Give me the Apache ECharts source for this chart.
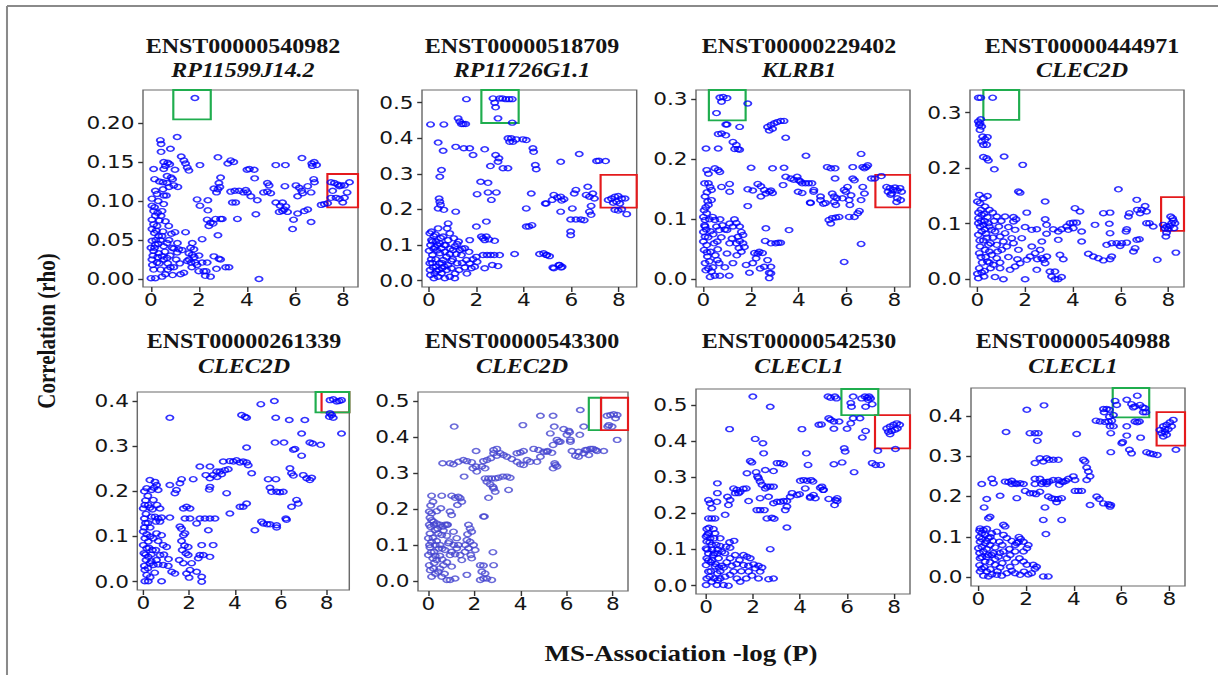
<!DOCTYPE html>
<html>
<head>
<meta charset="utf-8">
<script src="https://cdn.jsdelivr.net/npm/echarts@6/dist/echarts.min.js"></script>
<style>
html,body{margin:0;padding:0;background:#fff;overflow:hidden}
#wrap{width:1218px;height:675px;overflow:hidden;position:relative;background:#fff}
#chart{width:1015px;height:675px;transform:scaleX(1.2);transform-origin:0 0}
</style>
</head>
<body>
<div id="wrap"><div id="chart"></div></div>
<script>
// Transcript / gene labels for the eight panels
const transcripts = ['ENST00000540982','ENST00000518709','ENST00000229402','ENST00000444971',
                     'ENST00000261339','ENST00000543300','ENST00000542530','ENST00000540988'];
const genes = ['RP11599J14.2','RP11726G1.1','KLRB1','CLEC2D','CLEC2D','CLEC2D','CLECL1','CLECL1'];

// Tick values
const xTicks = [0,2,4,6,8];
const yTicks = [
  [0,0.05,0.10,0.15,0.20],
  [0,0.1,0.2,0.3,0.4,0.5],
  [0,0.1,0.2,0.3],
  [0,0.1,0.2,0.3],
  [0,0.1,0.2,0.3,0.4],
  [0,0.1,0.2,0.3,0.4,0.5],
  [0,0.1,0.2,0.3,0.4,0.5],
  [0,0.1,0.2,0.3,0.4]
];

// Points: [MS-association -log(P), correlation rho]
const p1 = [
[1.83,0.232],[1.09,0.182],[0.39,0.178],[0.42,0.173],[0.81,0.167],[0.42,0.163],
[1.26,0.157],[1.37,0.152],[1.44,0.148],[1.51,0.143],[1.58,0.139],
[0.53,0.150],[0.70,0.149],[0.78,0.147],[0.60,0.145],[0.11,0.141],[2.04,0.146],[2.79,0.156],
[3.20,0.148],[3.32,0.152],[3.45,0.150],[4.00,0.140],[4.10,0.141],[4.30,0.140],
[5.20,0.146],[5.60,0.146],[6.29,0.155],[6.70,0.148],[6.80,0.150],[6.90,0.146],[6.72,0.145],
[0.53,0.141],[0.67,0.132],[0.84,0.130],[0.50,0.124],[0.67,0.123],[0.95,0.120],[1.12,0.118],
[0.18,0.113],[0.25,0.109],[0.53,0.107],[0.64,0.107],[0.04,0.103],
[2.83,0.123],[2.87,0.118],[2.90,0.130],[2.73,0.111],[2.62,0.116],[2.79,0.115],
[1.92,0.102],[2.04,0.094],[2.37,0.101],
[3.32,0.112],[3.49,0.113],[3.67,0.113],[3.85,0.111],[3.95,0.114],[4.02,0.111],[3.39,0.098],[3.53,0.098],
[4.16,0.106],[4.43,0.101],[4.69,0.111],[4.85,0.112],[4.99,0.110],[4.85,0.123],[4.92,0.120],[4.32,0.129],
[5.20,0.098],[5.38,0.094],[5.48,0.098],[5.55,0.089],[5.62,0.093],[5.34,0.086],[5.48,0.087],[5.69,0.086],
[5.58,0.119],[6.04,0.120],[6.18,0.117],[6.28,0.113],[6.11,0.106],[6.32,0.110],[6.67,0.111],[6.53,0.119],
[6.78,0.128],[6.81,0.124],[6.11,0.084],[6.39,0.087],[6.53,0.089],[5.94,0.076],[6.67,0.073],[5.90,0.064],
[7.09,0.095],[7.22,0.096],[7.36,0.097],
[7.50,0.124],[7.64,0.123],[7.78,0.121],[7.85,0.119],[7.92,0.120],[8.06,0.120],[8.27,0.124],
[7.50,0.104],[7.71,0.104],[7.85,0.103],[8.06,0.104],[8.17,0.111],[7.99,0.098],[7.57,0.113],
[0.04,0.094],[0.11,0.087],[0.18,0.081],[0.04,0.076],[0.11,0.070],[0.25,0.068],[0.04,0.064],[0.14,0.059],
[0.32,0.055],[0.04,0.049],[0.18,0.044],[0.00,0.040],[0.11,0.036],[0.32,0.033],[0.46,0.029],[0.04,0.025],
[0.25,0.021],[0.53,0.025],[0.67,0.027],[0.11,0.012],[0.00,0.001],[0.18,0.001],[0.46,0.003],[0.60,0.006],
[0.81,0.015],[0.95,0.015],[1.23,0.006],[1.37,0.008],
[0.53,0.096],[0.46,0.087],[0.42,0.081],[0.60,0.074],[0.74,0.068],[0.50,0.061],[0.46,0.055],[0.67,0.046],
[0.53,0.042],[0.88,0.040],[0.95,0.039],[1.09,0.034],[1.44,0.060],[1.16,0.038],[1.30,0.037],
[1.72,0.046],[1.65,0.040],[1.79,0.038],[1.58,0.033],[1.72,0.031],[1.58,0.025],[1.51,0.023],[1.67,0.021],
[1.85,0.021],[1.92,0.018],[2.13,0.051],[1.99,0.010],[2.30,0.010],[2.26,0.004],[2.48,0.003],[2.13,0.021],
[2.34,0.021],[2.62,0.029],[2.83,0.026],[2.90,0.025],[2.73,0.013],[3.11,0.015],[3.25,0.015],[2.79,0.056],
[2.37,0.088],[2.34,0.076],[2.48,0.072],[2.59,0.071],[2.69,0.077],[2.90,0.077],[2.97,0.077],[3.60,0.077],
[2.41,0.068],[4.50,0.000],[4.37,0.083],
[0.20,0.050],[0.30,0.045],[0.08,0.030],[0.35,0.020],[0.75,0.050],[0.85,0.058],[1.00,0.060],[0.90,0.005],[0.70,0.012],[1.10,0.046],
[0.15,0.092],[0.28,0.085],[0.35,0.075],[0.22,0.062],[0.40,0.050],[0.15,0.040],[0.28,0.028],[0.58,0.035],
[0.70,0.020],[0.06,0.018],[0.40,0.012],[1.05,0.025],[1.20,0.020],[0.80,0.030],[0.30,0.100],[0.50,0.115],
[0.75,0.118],[0.90,0.128],[1.00,0.140],[0.35,0.125],[0.15,0.128],[1.80,0.028],[1.70,0.015],[2.00,0.030],[2.20,0.010]
];

const p2 = [
[0.07,0.439],[0.63,0.439],[1.58,0.510],[1.23,0.456],[1.30,0.447],[1.37,0.440],[1.45,0.440],[1.55,0.440],
[2.70,0.512],[2.98,0.512],[3.10,0.512],[3.24,0.510],[3.38,0.510],[3.51,0.510],[2.77,0.500],[2.81,0.487],[2.91,0.456],[3.51,0.444],
[3.33,0.400],[3.47,0.400],[3.68,0.397],[3.96,0.397],[4.10,0.395],[3.40,0.390],[3.54,0.390],
[1.13,0.376],[1.47,0.372],[1.72,0.372],[1.86,0.353],[2.35,0.369],[2.81,0.353],[2.95,0.344],[2.91,0.334],
[2.59,0.322],[3.12,0.316],[3.33,0.316],[4.38,0.372],[4.41,0.362],[4.48,0.325],[4.52,0.313],
[0.39,0.388],[0.60,0.365],[0.53,0.311],[0.46,0.292],
[0.43,0.231],[0.46,0.222],[0.49,0.213],[0.39,0.203],[0.63,0.199],[1.13,0.194],
[2.18,0.278],[2.49,0.275],[2.49,0.248],[2.84,0.248],[2.63,0.227],[2.03,0.243],
[4.31,0.245],[4.10,0.203],[4.94,0.217],
[6.33,0.356],[5.55,0.334],[7.06,0.336],[7.16,0.337],[7.44,0.336],[6.69,0.264],[6.19,0.255],[6.12,0.245],
[5.26,0.241],[5.41,0.234],[5.55,0.236],[5.69,0.229],[5.19,0.227],[5.59,0.225],[4.90,0.217],[6.62,0.241],
[6.76,0.236],[6.90,0.245],[6.97,0.231],[6.83,0.210],[6.76,0.194],[6.83,0.185],[6.54,0.170],[6.40,0.172],
[6.19,0.172],[5.97,0.172],[6.04,0.203],[5.55,0.194],[5.97,0.138],[5.97,0.128],[4.83,0.077],[4.97,0.072],
[5.26,0.035],[5.47,0.044],[5.61,0.039],
[7.55,0.227],[7.69,0.231],[7.83,0.236],[7.97,0.238],[8.12,0.231],[8.26,0.231],[7.90,0.222],[8.04,0.217],
[7.76,0.219],[7.83,0.199],[7.97,0.197],[8.12,0.201],[8.33,0.187],
[0.11,0.138],[0.04,0.133],[0.21,0.125],[0.11,0.114],[0.07,0.100],[0.25,0.094],[0.01,0.084],[0.15,0.072],
[0.29,0.060],[0.04,0.049],[0.18,0.037],[0.32,0.028],[0.07,0.016],[0.21,0.007],[0.39,0.011],[0.53,0.021],
[0.67,0.007],[0.88,0.011],[1.09,0.007],[0.46,0.049],[0.60,0.058],[0.74,0.067],[0.88,0.075],[1.09,0.096],
[1.19,0.103],[1.02,0.086],[0.53,0.091],[0.67,0.081],[0.81,0.044],[0.95,0.035],[1.27,0.030],[1.51,0.037],
[1.72,0.049],[1.86,0.060],[2.00,0.067],[1.69,0.081],[1.51,0.091],[1.37,0.072],[1.58,0.058],[1.79,0.035],
[1.93,0.039],[1.19,0.049],[0.77,0.147],[0.88,0.133],[0.81,0.161],[0.39,0.147],[0.60,0.124],[0.46,0.105],
[0.81,0.114],[1.05,0.119],[1.30,0.086],[0.46,0.077],[1.72,0.114],[2.00,0.152],[2.42,0.166],[2.21,0.124],
[2.28,0.119],[2.35,0.114],[2.42,0.124],[2.53,0.116],[2.77,0.112],[2.28,0.072],[2.45,0.072],[2.60,0.072],
[2.75,0.072],[2.98,0.072],[2.67,0.044],[2.91,0.041],[3.61,0.075],[4.10,0.152],[4.21,0.152],[4.34,0.156],
[4.66,0.075],[4.94,0.072],[5.08,0.069],[5.22,0.037],[5.50,0.044],[5.57,0.037],[2.03,0.053],[2.35,0.035],
[0.25,0.020],[0.10,0.060],[0.35,0.085],[0.55,0.035],[0.70,0.100],[0.30,0.110],
[0.15,0.050],[0.30,0.040],[0.42,0.030],[0.55,0.050],[0.65,0.040],[0.75,0.030],[0.20,0.090],[0.35,0.100],
[0.50,0.120],[0.65,0.100],[0.90,0.090],[1.00,0.060],[1.15,0.075],[1.40,0.050],[1.60,0.020],[1.10,0.020],
[0.05,0.030],[0.28,0.130],[0.15,0.110],[0.95,0.055],[1.25,0.110],[1.40,0.090]
];

const p3 = [
[0.69,0.303],[0.83,0.304],[0.99,0.302],[0.76,0.296],[0.55,0.277],[1.86,0.293],[0.94,0.258],[0.99,0.258],
[1.52,0.254],[0.62,0.242],[0.76,0.243],[0.94,0.240],[1.24,0.229],[1.38,0.224],[1.31,0.217],[1.45,0.217],[1.52,0.216],
[2.69,0.254],[2.83,0.257],[2.97,0.260],[3.10,0.262],[3.24,0.264],[3.38,0.264],[2.76,0.248],[2.90,0.251],[3.45,0.236],
[0.11,0.218],[0.62,0.218],[0.14,0.182],[0.48,0.185],[0.62,0.182],[0.69,0.179],[0.21,0.176],[0.21,0.160],
[0.28,0.154],[0.34,0.149],[0.76,0.154],[1.10,0.159],[1.10,0.146],
[2.00,0.186],[2.90,0.185],[3.38,0.186],[4.30,0.206],
[1.86,0.150],[2.07,0.148],[2.28,0.159],[2.41,0.155],[2.55,0.149],[2.62,0.143],[2.76,0.146],[2.83,0.148],
[2.90,0.144],[2.41,0.138],[1.86,0.122],
[3.34,0.157],[3.45,0.171],[3.66,0.168],[3.79,0.166],[3.93,0.171],[4.00,0.165],[4.07,0.163],[4.14,0.160],
[4.28,0.160],[4.41,0.160],[3.97,0.146],[4.14,0.144],[4.48,0.128],[4.62,0.146],
[6.61,0.209],[6.89,0.190],[6.83,0.187],[6.75,0.185],[6.68,0.187],[7.04,0.168],[7.18,0.168],[7.46,0.172],
[6.26,0.187],[5.19,0.187],[5.34,0.185],[5.52,0.185],[5.52,0.168],[6.26,0.168],[6.33,0.165],[6.04,0.154],
[5.90,0.149],[5.97,0.146],[6.68,0.154],[6.75,0.143],[6.61,0.132],[4.55,0.160],[4.63,0.149],[4.91,0.138],
[4.91,0.132],[5.12,0.127],[5.48,0.129],[5.55,0.124],[5.40,0.143],[5.48,0.138],[4.49,0.127],[5.83,0.135],
[6.11,0.132],[6.14,0.124],[6.19,0.140],[5.26,0.099],[5.40,0.102],[5.55,0.103],[5.69,0.104],[5.34,0.093],
[6.11,0.104],[6.33,0.104],[6.47,0.110],[6.54,0.114],[6.61,0.059],[5.90,0.029],[5.03,0.126],[5.59,0.135],
[7.68,0.154],[7.82,0.152],[7.74,0.146],[7.89,0.143],[7.96,0.149],[8.03,0.153],[8.13,0.148],[8.24,0.152],
[8.31,0.146],[8.13,0.135],[8.27,0.132],[8.10,0.129],[7.85,0.141],
[0.00,0.104],[0.07,0.099],[0.03,0.115],[0.14,0.110],[0.07,0.088],[0.00,0.079],[0.07,0.071],[0.00,0.063],
[0.14,0.057],[0.03,0.049],[0.17,0.038],[0.07,0.027],[0.21,0.018],[0.34,0.013],[0.48,0.006],[0.69,0.006],
[0.28,0.004],[0.07,0.138],[0.21,0.124],[0.34,0.132],[0.39,0.104],[0.48,0.099],[0.55,0.088],[0.66,0.082],
[0.41,0.075],[0.58,0.063],[0.30,0.046],[0.58,0.032],[0.66,0.027],[0.90,0.083],[0.99,0.082],[1.10,0.093],
[1.24,0.088],[1.38,0.094],[1.52,0.088],[1.59,0.079],[1.66,0.074],[1.45,0.071],[1.52,0.064],[1.66,0.060],
[1.38,0.060],[1.49,0.052],[1.59,0.046],[1.72,0.054],[1.24,0.027],[1.10,0.060],[0.99,0.043],[0.90,0.020],
[1.08,0.006],[2.07,0.027],[2.21,0.035],[2.34,0.046],[2.48,0.044],[2.59,0.064],[2.83,0.060],[2.69,0.032],
[2.83,0.021],[2.76,0.011],[2.76,0.002],[2.83,0.010],[2.55,0.021],[2.38,0.018],[1.93,0.011],[1.79,0.024],
[3.03,0.060],[3.14,0.061],[3.24,0.061],[2.62,0.085],[2.14,0.044],[2.28,0.043],[3.59,0.082],
[0.05,0.090],[0.12,0.083],[0.10,0.120],[0.18,0.130],[0.25,0.100],[0.30,0.080],[0.20,0.070],[0.15,0.045],
[0.25,0.030],[0.10,0.015],[0.40,0.020],[0.50,0.040],[0.45,0.060],[0.60,0.050],[0.75,0.070],[0.80,0.090],
[0.70,0.100],[0.05,0.160],[0.15,0.145],[1.30,0.100],[1.20,0.068],[1.40,0.040]
];

const p4 = [
[0.04,0.327],[0.14,0.327],[0.64,0.327],[0.04,0.284],[0.11,0.281],[0.14,0.288],[0.18,0.275],[0.08,0.278],
[0.11,0.269],[0.22,0.257],[0.32,0.252],[0.42,0.256],[0.18,0.248],[0.25,0.242],[0.39,0.242],[0.25,0.220],
[0.39,0.218],[0.46,0.214],[0.71,0.198],[1.12,0.221],[1.90,0.206],[1.72,0.158],[1.79,0.156],[2.84,0.140],[5.91,0.162],
[0.08,0.152],[0.25,0.146],[0.42,0.150],[0.11,0.137],[0.32,0.131],[0.50,0.125],[0.64,0.120],[0.18,0.116],
[0.42,0.112],[0.81,0.113],[1.16,0.113],[1.51,0.112],[1.62,0.108],[2.07,0.120],[1.51,0.104],[0.04,0.101],
[0.25,0.098],[0.46,0.101],[0.60,0.089],[0.18,0.086],[0.04,0.080],[0.36,0.082],[0.74,0.086],[0.95,0.077],
[1.16,0.083],[1.30,0.094],[1.58,0.089],[2.00,0.094],[2.28,0.089],[2.49,0.090],[2.90,0.098],[2.84,0.108],
[1.86,0.074],[1.44,0.074],[1.09,0.068],[0.81,0.062],[1.02,0.053],[1.23,0.059],[1.51,0.065],[1.72,0.053],
[0.46,0.062],[0.11,0.059],[0.32,0.053],[0.08,0.047],[0.60,0.044],[0.81,0.038],[0.42,0.032],[0.67,0.026],
[0.95,0.020],[0.08,0.020],[0.18,0.012],[0.04,0.002],[0.74,0.004],[1.09,0.000],[1.37,0.017],[1.58,0.023],
[1.79,0.029],[1.68,0.036],[2.00,0.000],[2.07,0.035],[2.21,0.041],[2.42,0.047],[2.63,0.053],[2.51,0.036],
[2.70,0.038],[2.77,0.035],[2.91,0.041],[2.84,0.029],[2.49,0.017],[3.04,0.014],[3.11,0.005],[3.25,0.000],
[3.39,0.000],[3.53,0.004],[3.25,0.014],[2.28,0.059],[2.70,0.068],[2.90,0.082],[3.18,0.090],[3.39,0.086],
[3.53,0.090],[3.74,0.095],[3.88,0.101],[4.02,0.102],[4.16,0.102],[4.09,0.128],[4.30,0.122],[3.81,0.089],
[4.02,0.092],[4.37,0.086],[4.37,0.068],[3.39,0.071],[3.46,0.044],[3.60,0.036],[4.65,0.046],[4.86,0.041],
[5.07,0.038],[5.28,0.034],[5.56,0.036],[5.63,0.041],[5.28,0.119],[5.56,0.120],[4.93,0.098],[5.53,0.100],
[5.56,0.083],[5.42,0.062],[5.63,0.065],[5.84,0.065],[6.05,0.065],[6.26,0.066],[5.98,0.060],[6.23,0.086],
[6.26,0.090],[6.37,0.119],[6.33,0.113],[6.68,0.143],[6.70,0.125],[6.82,0.119],[7.03,0.132],[7.09,0.122],
[6.89,0.125],[6.54,0.050],[6.61,0.056],[6.68,0.071],[6.79,0.072],[7.09,0.101],[7.21,0.101],[7.37,0.095],
[7.54,0.035],[7.90,0.077],[7.93,0.084],
[7.79,0.098],[7.93,0.095],[8.07,0.096],[8.14,0.101],[8.21,0.106],[8.28,0.101],[8.10,0.113],[8.18,0.110],
[8.24,0.092],[8.00,0.090],[7.86,0.092],[8.32,0.048],
[0.00,0.140],[0.05,0.120],[0.15,0.105],[0.30,0.090],[0.10,0.070],[0.20,0.030],[0.30,0.015],[0.50,0.050],[0.00,0.010],[0.55,0.020],
[0.05,0.110],[0.15,0.125],[0.28,0.118],[0.30,0.105],[0.12,0.095],[0.50,0.095],[0.40,0.075],[0.25,0.070],
[0.55,0.065],[0.65,0.075],[0.90,0.095],[1.00,0.105],[0.70,0.105],[0.15,0.040],[0.35,0.040],[0.50,0.030],
[0.28,0.005],[0.85,0.050],[1.30,0.040],[0.95,0.030]
];

const p5 = [
[8.15,0.402],[8.29,0.404],[8.44,0.399],[8.55,0.400],[8.65,0.402],[8.15,0.373],[8.22,0.369],[8.29,0.363],[8.12,0.365],[8.65,0.328],
[5.13,0.393],[5.72,0.400],[1.16,0.363],[4.29,0.369],[4.44,0.365],[4.51,0.363],[5.78,0.363],[6.37,0.358],
[7.05,0.358],[6.91,0.328],[5.75,0.308],[6.14,0.308],[4.51,0.297],[7.27,0.308],[7.39,0.306],[7.74,0.303],
[6.55,0.292],[6.62,0.294],[6.91,0.279],[3.49,0.266],[3.78,0.267],[3.93,0.266],[4.07,0.269],[4.22,0.264],
[4.36,0.266],[4.51,0.264],[4.58,0.258],[2.47,0.255],[2.91,0.255],[3.20,0.244],[3.35,0.244],[3.56,0.247],
[3.71,0.249],[3.42,0.238],[3.05,0.236],[3.22,0.232],[2.73,0.236],[2.91,0.229],[4.73,0.240],[6.40,0.251],
[6.47,0.240],[6.55,0.235],[6.98,0.236],[7.13,0.229],[7.27,0.225],[7.35,0.230],[5.45,0.227],[5.79,0.227],
[3.64,0.196],[2.91,0.210],[2.88,0.204],[3.78,0.151],[4.22,0.166],[4.36,0.166],[4.51,0.173],[5.53,0.208],
[5.60,0.199],[5.82,0.199],[5.96,0.198],[6.11,0.199],[6.69,0.181],[6.76,0.173],[6.47,0.166],[6.22,0.140],
[6.25,0.137],[5.16,0.133],[5.24,0.129],[5.41,0.127],[5.53,0.127],[5.82,0.125],[5.82,0.120],[4.87,0.114],
[0.29,0.225],[0.51,0.221],[0.58,0.214],[0.15,0.207],[0.36,0.203],[0.47,0.208],[0.65,0.203],[1.16,0.214],
[1.45,0.203],[1.38,0.196],[1.67,0.227],[1.60,0.218],[2.18,0.227],[0.07,0.170],[0.22,0.170],[0.00,0.162],
[0.29,0.164],[0.44,0.181],[0.73,0.162],[0.36,0.144],[0.51,0.144],[0.65,0.140],[0.80,0.142],[0.55,0.133],
[0.73,0.133],[1.16,0.142],[1.75,0.162],[1.89,0.166],[2.04,0.162],[1.82,0.140],[2.47,0.140],[2.69,0.140],
[2.91,0.140],[3.13,0.140],[2.33,0.129],[2.04,0.140],[2.84,0.114],[0.00,0.111],[0.15,0.105],[0.07,0.096],
[0.22,0.089],[0.00,0.081],[0.15,0.074],[0.03,0.063],[0.22,0.055],[0.12,0.048],[0.29,0.041],[0.07,0.026],
[0.22,0.001],[0.07,0.001],[0.44,0.096],[0.58,0.107],[0.80,0.103],[0.87,0.081],[1.02,0.077],[0.73,0.059],
[0.58,0.048],[0.44,0.037],[0.65,0.038],[0.87,0.037],[1.09,0.035],[0.80,0.001],[1.24,0.022],[1.38,0.018],
[1.60,0.122],[1.67,0.117],[1.75,0.103],[1.82,0.107],[1.67,0.090],[1.96,0.077],[1.86,0.063],[1.96,0.059],
[1.57,0.048],[1.75,0.041],[2.04,0.026],[1.89,0.018],[2.00,0.009],[2.55,0.081],[3.05,0.081],[2.47,0.059],
[2.62,0.059],[2.40,0.052],[2.91,0.055],[2.33,0.022],[2.55,0.011],[2.55,0.000],[2.11,0.041],
[0.10,0.130],[0.05,0.140],[0.30,0.120],[0.40,0.070],[0.20,0.030],[0.35,0.060],[0.10,0.180],
[0.05,0.120],[0.20,0.130],[0.12,0.150],[0.30,0.100],[0.25,0.075],[0.10,0.060],[0.35,0.045],[0.05,0.035],
[0.15,0.015],[0.30,0.010],[0.50,0.020],[0.55,0.070],[0.65,0.090],[0.90,0.060],[1.10,0.050],[0.40,0.160],
[0.20,0.190],[0.05,0.200],[0.60,0.170],[1.70,0.070],[1.80,0.080]
];

const p6 = [
[7.75,0.459],[7.90,0.461],[8.04,0.463],[8.19,0.461],[8.12,0.452],[7.83,0.433],[7.97,0.429],[7.78,0.429],[8.19,0.392],
[6.59,0.475],[6.74,0.429],[4.86,0.459],[5.41,0.459],[5.46,0.429],[4.10,0.433],[1.12,0.429],[5.29,0.410],
[5.87,0.422],[6.09,0.417],[6.13,0.413],[6.01,0.406],[6.57,0.406],[6.16,0.392],[6.16,0.387],[5.58,0.392],
[5.65,0.387],[5.72,0.387],[5.41,0.378],[5.14,0.359],[6.23,0.361],[6.52,0.359],[6.74,0.355],[6.81,0.364],
[6.88,0.364],[7.03,0.367],[7.14,0.367],[7.25,0.364],[6.96,0.350],[7.32,0.361],[7.61,0.361],[6.38,0.348],[6.52,0.345],
[4.78,0.364],[5.00,0.359],[5.17,0.361],[5.36,0.356],[5.51,0.322],[5.58,0.318],[5.48,0.327],[5.41,0.313],
[4.86,0.345],[4.71,0.331],[4.42,0.331],[4.28,0.336],[4.13,0.322],[3.99,0.324],[3.84,0.331],[3.62,0.339],
[3.41,0.345],[3.26,0.350],[3.12,0.355],[2.97,0.348],[2.83,0.355],[2.71,0.341],[2.54,0.336],[2.39,0.333],
[2.32,0.318],[2.46,0.313],[2.10,0.304],[1.93,0.313],[2.07,0.318],[1.88,0.330],[1.67,0.333],[1.52,0.336],
[1.30,0.331],[1.09,0.324],[0.94,0.327],[0.62,0.327],[1.55,0.290],[1.01,0.237],[0.58,0.237],[0.14,0.237],
[1.30,0.234],[1.38,0.230],[1.45,0.220],[1.26,0.211],[0.54,0.202],[0.94,0.193],[1.16,0.231],[2.39,0.179],
[2.46,0.285],[2.61,0.285],[2.75,0.285],[2.90,0.285],[3.04,0.287],[3.23,0.290],[3.41,0.290],[3.55,0.287],
[2.54,0.276],[2.68,0.269],[2.80,0.262],[2.83,0.257],[2.90,0.248],[2.61,0.231],[3.48,0.253],[2.83,0.364],
[2.97,0.367],[2.07,0.361],[3.84,0.355],[3.99,0.357],[4.13,0.361],[4.57,0.367],
[0.07,0.176],[0.14,0.169],[0.22,0.165],[0.04,0.156],[0.25,0.156],[0.36,0.160],[0.51,0.156],[0.62,0.151],
[0.72,0.156],[0.83,0.156],[0.29,0.142],[0.07,0.132],[0.43,0.132],[0.58,0.128],[0.00,0.119],[0.14,0.109],
[0.36,0.111],[0.51,0.100],[0.07,0.093],[0.25,0.081],[0.00,0.072],[0.19,0.063],[0.36,0.058],[0.04,0.044],
[0.22,0.035],[0.43,0.026],[0.14,0.012],[0.58,0.012],[0.80,0.003],[0.94,0.003],[1.16,0.007],[0.65,0.044],
[0.80,0.052],[0.94,0.072],[1.01,0.081],[1.23,0.091],[1.16,0.074],[0.87,0.105],[1.30,0.100],[0.72,0.086],
[1.01,0.040],[1.45,0.058],[1.38,0.072],[1.59,0.081],[1.74,0.156],[1.81,0.146],[1.88,0.137],[1.67,0.114],
[1.81,0.109],[1.96,0.100],[1.74,0.091],[1.84,0.072],[2.03,0.086],[1.88,0.063],[1.67,0.017],[2.25,0.044],
[2.39,0.043],[2.32,0.026],[2.46,0.021],[2.25,0.003],[2.39,0.007],[2.54,0.007],[2.75,0.003],[2.83,0.044],
[2.80,0.080],[2.43,0.179],[1.23,0.119],[1.09,0.137],[0.80,0.126],[0.04,0.193],[0.14,0.188],[0.36,0.194],
[1.01,0.183],[0.80,0.156],
[0.10,0.150],[0.20,0.120],[0.30,0.100],[0.45,0.090],[0.12,0.080],[0.30,0.070],[0.50,0.070],[0.60,0.090],
[0.08,0.030],[0.30,0.020],[0.50,0.035],[0.70,0.020],[0.05,0.100],[0.40,0.145],[0.65,0.140],[0.25,0.050],
[0.60,0.060],[0.90,0.110],[1.10,0.100],[1.60,0.100],[1.70,0.130],[0.20,0.220],[0.10,0.210]
];

const p7 = [
[1.99,0.523],[2.73,0.495],[1.00,0.433],[2.09,0.406],[2.42,0.394],[2.45,0.366],[4.08,0.433],[4.91,0.446],
[1.88,0.345],[1.95,0.341],[3.02,0.339],[3.16,0.339],[3.30,0.336],[4.27,0.366],[4.34,0.334],[2.52,0.320],
[2.87,0.317],[2.23,0.297],[2.30,0.288],[2.38,0.279],[2.59,0.274],[2.73,0.274],[2.87,0.274],[2.52,0.269],
[2.66,0.246],[2.30,0.242],[2.87,0.228],[3.02,0.232],[3.16,0.232],[3.30,0.234],[3.44,0.234],[3.58,0.246],
[3.66,0.256],[3.87,0.251],[3.98,0.253],[4.01,0.290],[4.15,0.292],[4.30,0.290],[4.47,0.292],[4.55,0.288],
[4.22,0.269],[4.44,0.246],[4.65,0.242],[4.86,0.271],[4.98,0.265],[5.58,0.242],[3.44,0.219],[3.37,0.209],
[3.44,0.161],[2.19,0.302],[2.13,0.314],[1.74,0.311],[1.17,0.269],[1.31,0.265],[1.38,0.256],[1.24,0.256],
[1.45,0.260],[1.59,0.268],[1.71,0.269],[1.02,0.237],[0.91,0.246],[0.95,0.223],[1.81,0.234],[0.10,0.237],
[0.46,0.232],[0.48,0.256],[0.48,0.283],[0.17,0.228],[0.24,0.214],[0.10,0.186],[0.24,0.186],[0.38,0.186],
[0.81,0.196],[2.16,0.209],[2.30,0.209],[2.48,0.209],[2.80,0.188],[2.90,0.185],[2.59,0.186],
[0.03,0.157],[0.10,0.145],[0.00,0.136],[0.17,0.131],[0.03,0.122],[0.24,0.113],[0.00,0.103],[0.10,0.089],
[0.31,0.085],[0.03,0.076],[0.20,0.065],[0.00,0.057],[0.38,0.053],[0.10,0.039],[0.48,0.034],[0.03,0.020],
[0.24,0.011],[0.00,0.002],[0.46,0.002],[0.74,0.002],[0.95,0.000],[0.60,0.020],[0.81,0.025],[1.02,0.030],
[1.17,0.039],[1.31,0.020],[1.45,0.011],[1.71,0.020],[1.95,0.028],[1.81,0.039],[1.59,0.057],[1.42,0.071],
[1.24,0.085],[1.02,0.076],[0.88,0.065],[0.67,0.055],[0.53,0.076],[0.67,0.094],[0.85,0.108],[1.00,0.120],
[1.02,0.105],[1.19,0.124],[0.60,0.131],[0.43,0.113],[0.48,0.089],[0.31,0.157],[0.38,0.145],[0.34,0.131],
[1.59,0.085],[1.74,0.080],[1.88,0.076],[2.02,0.059],[2.23,0.055],[2.38,0.050],[2.30,0.039],[2.23,0.020],
[2.66,0.018],[2.87,0.020],[2.73,0.101],[2.09,0.048],
[5.19,0.523],[5.30,0.520],[5.48,0.523],[5.55,0.518],[6.26,0.523],[6.62,0.518],[6.76,0.523],[6.86,0.520],
[6.94,0.523],[7.00,0.518],[6.90,0.514],[6.16,0.505],[6.19,0.495],[6.79,0.495],[7.07,0.502],[6.26,0.463],
[6.55,0.463],[5.22,0.463],[5.30,0.459],[5.44,0.454],[5.66,0.454],[4.80,0.445],[6.16,0.449],[5.44,0.434],
[6.00,0.434],[6.79,0.428],[6.65,0.410],[5.88,0.380],[5.92,0.371],[7.31,0.373],[8.06,0.378],[7.07,0.339],
[7.22,0.334],[7.43,0.334],[5.44,0.336],[5.79,0.341],[6.30,0.314],[4.57,0.251],[4.43,0.243],[4.93,0.274],
[5.00,0.265],[5.22,0.240],[5.51,0.237],[5.58,0.234],[5.47,0.223],
[7.69,0.435],[7.83,0.440],[7.98,0.445],[8.12,0.449],[8.24,0.445],[7.76,0.426],[7.90,0.428],[8.04,0.431],
[8.14,0.435],[7.83,0.419],
[0.05,0.140],[0.15,0.120],[0.25,0.100],[0.35,0.090],[0.10,0.070],[0.25,0.070],[0.40,0.060],[0.55,0.050],
[0.20,0.040],[0.35,0.020],[0.60,0.040],[0.75,0.050],[0.50,0.100],[0.60,0.110],[0.80,0.090],[0.15,0.025],
[0.50,0.015],[1.10,0.055],[1.30,0.060],[1.50,0.040],[1.80,0.055],[0.05,0.100],[0.12,0.160]
];

const p8 = [
[5.73,0.437],[5.80,0.427],[6.22,0.440],[6.66,0.450],[6.42,0.429],[6.56,0.423],[6.77,0.427],[6.89,0.421],
[6.98,0.419],[6.91,0.409],[7.02,0.409],[6.49,0.421],[5.24,0.417],[5.38,0.417],[5.49,0.415],[5.27,0.409],
[5.49,0.398],[5.66,0.402],[5.59,0.388],[5.45,0.386],[5.31,0.385],[5.10,0.386],[4.93,0.388],[5.52,0.374],
[5.66,0.374],[6.22,0.374],[6.56,0.386],[6.66,0.384],[6.75,0.386],[5.55,0.357],[6.01,0.332],[6.05,0.335],
[6.22,0.351],[6.80,0.346],[6.33,0.316],[6.42,0.307],[7.05,0.310],[7.19,0.307],[7.33,0.305],[7.50,0.303],
[5.55,0.310],[8.28,0.316],
[7.61,0.365],[7.75,0.374],[7.89,0.378],[8.03,0.384],[8.17,0.390],[7.68,0.357],[7.82,0.360],[7.96,0.367],
[8.10,0.374],[7.75,0.349],[7.89,0.353],[7.82,0.367],
[2.03,0.415],[2.75,0.426],[2.16,0.357],[2.37,0.357],[2.51,0.357],[2.47,0.338],[1.16,0.360],[4.12,0.355],
[2.58,0.295],[2.72,0.287],[2.86,0.295],[2.97,0.291],[3.14,0.291],[3.35,0.291],[2.37,0.283],[4.40,0.291],
[4.47,0.287],[4.54,0.272],[4.61,0.262],[4.68,0.250],[4.54,0.241],[3.98,0.250],[4.05,0.241],[3.77,0.244],
[3.67,0.239],[4.05,0.214],[4.19,0.214],[4.33,0.214],[3.14,0.241],[3.35,0.241],[3.49,0.237],[3.39,0.229],
[3.56,0.236],[2.37,0.244],[2.58,0.244],[2.72,0.236],[2.86,0.236],[2.65,0.231],[2.86,0.231],[2.97,0.237],
[2.37,0.231],[2.16,0.208],[2.30,0.208],[2.42,0.206],[2.58,0.212],[3.07,0.196],[3.21,0.194],[3.35,0.194],
[3.49,0.196],[3.28,0.186],[2.93,0.200],[2.79,0.173],[2.72,0.142],[2.83,0.107],[3.49,0.142],[4.96,0.200],
[5.07,0.194],[5.24,0.183],[5.45,0.181],[5.55,0.179],[5.52,0.175],[4.68,0.179],[0.14,0.231],[0.56,0.244],
[0.63,0.233],[0.91,0.202],[0.35,0.194],[0.42,0.146],[0.49,0.150],[0.24,0.173],[1.12,0.237],[1.26,0.236],
[1.40,0.239],[1.54,0.233],[1.61,0.231],[1.75,0.233],[1.89,0.231],[1.40,0.231],[1.96,0.214],[1.61,0.196],
[0.07,0.121],[0.21,0.117],[0.35,0.120],[0.14,0.109],[0.28,0.105],[0.56,0.109],[0.77,0.113],[0.42,0.097],
[0.07,0.088],[0.28,0.084],[0.49,0.080],[0.70,0.074],[0.88,0.088],[1.05,0.105],[1.19,0.097],[1.40,0.090],
[1.54,0.080],[1.68,0.087],[1.77,0.095],[1.89,0.088],[1.05,0.130],[1.12,0.126],[0.00,0.072],[0.21,0.064],
[0.42,0.055],[0.63,0.060],[0.84,0.051],[0.07,0.047],[0.28,0.039],[0.49,0.037],[0.70,0.031],[0.91,0.024],
[0.14,0.021],[0.35,0.014],[0.56,0.007],[0.77,0.006],[0.98,0.004],[1.19,0.010],[1.40,0.016],[1.54,0.010],
[1.75,0.006],[1.91,0.014],[2.09,0.007],[2.23,0.010],[2.37,0.021],[2.44,0.026],[2.30,0.031],[2.03,0.031],
[1.89,0.039],[1.72,0.047],[1.54,0.037],[1.33,0.026],[1.19,0.047],[1.05,0.064],[1.33,0.055],[1.54,0.064],
[1.89,0.064],[2.09,0.080],[2.03,0.072],[0.07,0.014],[0.21,0.004],[0.42,0.002],[2.72,0.002],[2.93,0.002],
[0.05,0.100],[0.15,0.095],[0.35,0.090],[0.50,0.100],[0.60,0.090],[0.15,0.075],[0.35,0.070],[0.55,0.055],
[0.05,0.060],[0.15,0.050],[0.35,0.050],[0.70,0.045],[0.05,0.030],[0.25,0.025],[0.50,0.020],[0.80,0.015],
[1.00,0.080],[1.30,0.070],[1.60,0.085],[1.70,0.100],[1.00,0.035],[0.90,0.060],[0.05,0.115]
];

const pointSets = [p1,p2,p3,p4,p5,p6,p7,p8];

// Highlight rectangles in data units [colour, x1, y1, x2, y2], drawn in listed order
const highlightBoxes = [
  [['#e41a1c',7.35,0.0919,8.92,0.1346],['#1fad4e',0.93,0.2047,2.49,0.2465]],
  [['#e41a1c',7.23,0.205,8.80,0.297],['#1fad4e',2.21,0.443,3.78,0.538]],
  [['#e41a1c',7.21,0.120,8.74,0.174],['#1fad4e',0.23,0.265,1.77,0.321]],
  [['#e41a1c',7.70,0.087,9.22,0.148],['#1fad4e',0.25,0.287,1.75,0.347]],
  [['#e41a1c',7.78,0.375,9.31,0.452],['#1fad4e',7.52,0.375,9.09,0.452]],
  [['#1fad4e',6.96,0.419,7.49,0.509],['#e41a1c',7.49,0.419,9.07,0.509]],
  [['#e41a1c',7.19,0.380,8.76,0.472],['#1fad4e',5.76,0.472,7.33,0.564]],
  [['#e41a1c',7.47,0.326,8.94,0.409],['#1fad4e',5.63,0.396,7.16,0.479]]
];

// Panel frames in page pixels plus axis extents
const S = 1.2;                 // horizontal stretch of the drawing surface
const panelFrames = [
  {l:143,   r:358,   t:90,  b:287, x:[-0.333,8.625], y:[-0.0103,0.2423], dec:2, cx:243},
  {l:422,   r:636.7, t:90,  b:287, x:[-0.29,8.75],   y:[-0.0177,0.5357], dec:1, cx:522},
  {l:696,   r:910,   t:90,  b:287, x:[-0.31,8.66],   y:[-0.0128,0.3155], dec:1, cx:799},
  {l:970,   r:1184,  t:90,  b:287, x:[-0.31,8.66],   y:[-0.0139,0.3408], dec:1, cx:1082},
  {l:137.3, r:349.3, t:392, b:590, x:[-0.26,8.99],   y:[-0.0184,0.42],   dec:1, cx:244},
  {l:418,   r:628,   t:392, b:591, x:[-0.45,8.66],   y:[-0.0278,0.525],  dec:1, cx:522},
  {l:696,   r:910,   t:389, b:594, x:[-0.43,8.68],   y:[-0.023,0.544],   dec:1, cx:799},
  {l:971,   r:1185,  t:388, b:586, x:[-0.31,8.66],   y:[-0.0217,0.469],  dec:1, cx:1073}
];
const titleRows = [[46,70],[341,366]];
const markerColors = ['#0000ff','#0000ff','#0000ff','#0000ff','#0000ff','#4545d0','#0000ff','#0000ff'];

const chart = echarts.init(document.getElementById('chart'), null, {renderer:'svg'});

const grids = [], xAxes = [], yAxes = [], series = [], graphics = [];
const tickFont = {fontFamily:'DejaVu Sans', fontSize:18, color:'#151515'};

panelFrames.forEach((p, i) => {
  grids.push({
    left: p.l / S, top: p.t, width: (p.r - p.l) / S, height: p.b - p.t,
    show: true, borderColor: '#6a6a6a', borderWidth: 1.2, backgroundColor: '#fff',
    containLabel: false, outerBoundsMode: 'none'
  });
  xAxes.push({
    type: 'value', gridIndex: i, min: p.x[0], max: p.x[1],
    axisLine: {show: false, onZero: false},
    axisTick: {show: true, length: 5, customValues: xTicks, lineStyle: {color: '#333', width: 1.2}},
    axisLabel: Object.assign({customValues: xTicks, margin: 4, formatter: v => String(v)}, tickFont),
    splitLine: {show: false}
  });
  yAxes.push({
    type: 'value', gridIndex: i, min: p.y[0], max: p.y[1],
    axisLine: {show: false, onZero: false},
    axisTick: {show: true, length: 4, customValues: yTicks[i], lineStyle: {color: '#333', width: 1.4}},
    axisLabel: Object.assign({customValues: yTicks[i], margin: 7, formatter: v => v.toFixed(p.dec)}, tickFont),
    splitLine: {show: false}
  });
  series.push({
    type: 'scatter', xAxisIndex: i, yAxisIndex: i, data: pointSets[i],
    symbol: 'circle', symbolSize: [6, 5], silent: true, clip: false,
    itemStyle: {color: 'rgba(0,0,0,0)', borderColor: markerColors[i], borderWidth: 1.5},
    markArea: {
      silent: true,
      label: {show: false},
      data: highlightBoxes[i].map(b => [
        {coord: [b[1], b[2]], itemStyle: {color: 'rgba(0,0,0,0)', borderColor: b[0], borderWidth: 1.8}},
        {coord: [b[3], b[4]]}
      ])
    }
  });
  const row = titleRows[i < 4 ? 0 : 1];
  graphics.push({
    type: 'text', silent: true,
    style: {text: transcripts[i], x: p.cx / S, y: row[0], align: 'center', verticalAlign: 'middle',
            textAlign: 'center', textVerticalAlign: 'middle',
            font: 'bold 20px "Liberation Serif"', fill: '#141414'}
  });
  graphics.push({
    type: 'text', silent: true,
    style: {text: genes[i], x: p.cx / S, y: row[1], align: 'center', verticalAlign: 'middle',
            textAlign: 'center', textVerticalAlign: 'middle',
            font: 'italic bold 20px "Liberation Serif"', fill: '#141414'}
  });
});

// outer frame (top and left edges)
graphics.push({type: 'line', silent: true, shape: {x1: 7 / S, y1: 6, x2: 1218 / S, y2: 6}, style: {stroke: '#8a8a8a', lineWidth: 2}});
graphics.push({type: 'line', silent: true, shape: {x1: 7 / S, y1: 6, x2: 7 / S, y2: 675}, style: {stroke: '#8a8a8a', lineWidth: 1.7}});

// shared axis titles
graphics.push({
  type: 'text', silent: true, x: 46 / S, y: 331, rotation: Math.PI / 2,
  style: {text: 'Correlation (rho)', x: 0, y: 0, align: 'center', verticalAlign: 'middle',
          textAlign: 'center', textVerticalAlign: 'middle',
          font: 'bold 21px "Liberation Serif"', fill: '#141414'}
});
graphics.push({
  type: 'text', silent: true,
  style: {text: 'MS-Association -log (P)', x: 681 / S, y: 653, align: 'center', verticalAlign: 'middle',
          textAlign: 'center', textVerticalAlign: 'middle',
          font: 'bold 22.5px "Liberation Serif"', fill: '#141414'}
});

chart.setOption({
  animation: false,
  backgroundColor: '#fff',
  grid: grids,
  xAxis: xAxes,
  yAxis: yAxes,
  series: series,
  graphic: {elements: graphics}
});
</script>
</body>
</html>
